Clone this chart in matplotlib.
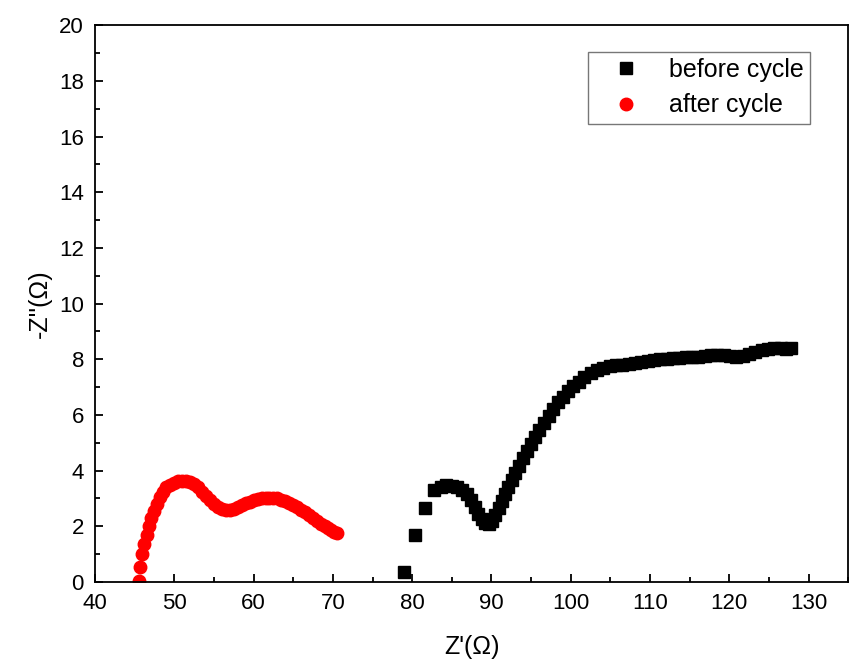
import matplotlib.pyplot as plt
from matplotlib.ticker import MultipleLocator

plt.rcParams['font.family'] = ['Liberation Sans', 'DejaVu Sans']

# before cycle (black squares)
before_x = [79.0, 80.3, 81.6, 82.8, 83.6, 84.3, 85.0, 85.7, 86.3, 86.9, 87.4, 87.9,
            88.3, 88.8, 89.2, 89.7, 90.1, 90.5, 90.9, 91.3, 91.7, 92.1, 92.6, 93.0,
            93.5, 94.0, 94.5, 95.0, 95.5, 96.0, 96.6, 97.2, 97.8, 98.4, 99.0, 99.6,
            100.3, 101.0, 101.7, 102.5, 103.3, 104.1, 104.9, 105.7, 106.5, 107.3,
            108.1, 108.9, 109.7, 110.5, 111.3, 112.1, 112.9, 113.7, 114.5, 115.3,
            116.1, 116.9, 117.7, 118.5, 119.3, 120.1, 120.9, 121.7, 122.5, 123.3,
            124.1, 124.9, 125.7, 126.5, 127.2, 127.8]
before_y = [0.35, 1.7, 2.65, 3.3, 3.42, 3.48, 3.45, 3.4, 3.3, 3.15, 2.95, 2.7,
            2.45, 2.25, 2.12, 2.1, 2.2, 2.4, 2.65, 2.9, 3.15, 3.4, 3.65, 3.9,
            4.15, 4.45, 4.7, 4.95, 5.2, 5.45, 5.7, 5.95, 6.2, 6.45, 6.65, 6.85,
            7.05, 7.2, 7.35, 7.5, 7.6, 7.7, 7.75, 7.78, 7.8, 7.83,
            7.86, 7.9, 7.93, 7.96, 8.0, 8.02, 8.04, 8.06, 8.08, 8.1,
            8.1, 8.12, 8.14, 8.15, 8.15, 8.12, 8.1, 8.12, 8.2, 8.27,
            8.32, 8.36, 8.4, 8.4, 8.38, 8.4]

# after cycle (red circles)
after_x = [45.5, 45.7, 45.95, 46.2, 46.5, 46.8, 47.1, 47.4, 47.8, 48.2, 48.6, 49.0,
           49.5, 50.0, 50.5, 51.0, 51.5, 52.0, 52.5, 53.0, 53.5, 54.0, 54.5, 55.0,
           55.5, 56.0, 56.5, 57.0, 57.5, 58.0, 58.5, 59.0, 59.5, 60.0, 60.5, 61.0,
           61.5, 62.0, 62.5, 63.0, 63.5, 64.0, 64.5, 65.0, 65.5, 66.0, 66.5, 67.0,
           67.5, 68.0, 68.5, 69.0, 69.4, 69.8, 70.2, 70.5]
after_y = [0.05, 0.55, 1.0, 1.35, 1.7, 2.0, 2.3, 2.55, 2.8, 3.05, 3.25, 3.4,
           3.5, 3.57, 3.62, 3.64, 3.64, 3.6, 3.52, 3.4, 3.25, 3.1, 2.95, 2.8,
           2.7, 2.63, 2.6, 2.6, 2.63, 2.7, 2.77, 2.83, 2.88, 2.93, 2.97, 3.0,
           3.02, 3.03, 3.02, 3.0, 2.96, 2.9, 2.84, 2.77, 2.7, 2.6, 2.5, 2.4,
           2.3, 2.2, 2.1, 2.0, 1.95, 1.88, 1.8, 1.75]

fig = plt.figure(figsize=(8.49, 6.64), dpi=100)
ax = fig.add_axes([0.112, 0.1235, 0.887, 0.8385])

ax.plot(before_x, before_y, 's', color='black', markersize=8, label='before cycle')
ax.plot(after_x, after_y, 'o', color='red', markersize=9, label='after cycle')

ax.set_xlim(40, 135)
ax.set_ylim(0, 20)
ax.xaxis.set_major_locator(MultipleLocator(10))
ax.xaxis.set_minor_locator(MultipleLocator(5))
ax.yaxis.set_major_locator(MultipleLocator(2))
ax.yaxis.set_minor_locator(MultipleLocator(1))
ax.tick_params(which='both', direction='in', top=False, right=False, labelsize=16,
               width=1.3, pad=8)
ax.tick_params(which='major', length=6)
ax.tick_params(which='minor', length=3.5)
for s in ax.spines.values():
    s.set_linewidth(1.3)

ax.set_xlabel("Z'(Ω)", fontsize=18, labelpad=15)
ax.set_ylabel("-Z''(Ω)", fontsize=18, labelpad=5)

leg = ax.legend(loc='upper right', bbox_to_anchor=(0.95, 0.952), borderaxespad=0,
                fontsize=18, fancybox=False, edgecolor='#555555',
                handlelength=2.5, handletextpad=0.5, borderpad=0.25,
                labelspacing=0.45)
leg.get_frame().set_linewidth(1.0)

fig.savefig('out.png', dpi=100)
